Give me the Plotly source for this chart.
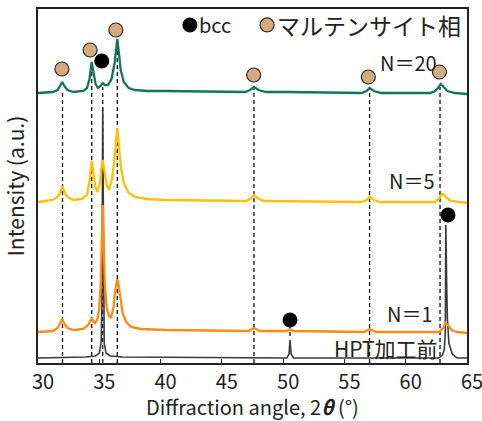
import plotly.graph_objects as go

# ---- data ----
n20_x = [30.0, 31.2, 31.6, 31.8, 31.98, 32.15, 32.4, 32.9, 33.7, 34.0, 34.2, 34.38, 34.52, 34.7, 34.9,
         35.1, 35.28, 35.45, 35.7, 36.0, 36.25, 36.37, 36.47, 36.6, 36.75, 37.0, 37.4, 37.9, 38.9,
         40.4, 46.9, 47.3, 47.62, 48.0, 48.6, 50.4, 56.4, 56.8, 57.05, 57.4, 58.0, 62.0, 62.4, 62.7,
         62.85, 63.1, 63.4, 64.0, 65.0]
n20_y = [270, 271, 273, 277, 281, 277, 273, 271, 272, 275, 284, 301, 290, 279, 275,
         277, 280, 278, 278, 284, 300, 315, 324, 310, 293, 281, 275, 273, 272,
         272, 271, 273, 276, 273, 271, 271, 270, 272, 275, 272, 270, 270, 272, 276,
         279, 276, 272, 270, 269]

n5_x = [30.0, 31.2, 31.6, 31.8, 31.98, 32.15, 32.4, 32.9, 33.6, 34.0, 34.2, 34.38, 34.52, 34.7, 34.85,
        35.05, 35.2, 35.28, 35.38, 35.6, 35.8, 36.05, 36.25, 36.37, 36.47, 36.6, 36.75, 37.0, 37.4,
        37.9, 38.9, 40.4, 47.0, 47.4, 47.62, 47.9, 48.4, 56.4, 56.8, 57.05, 57.4, 57.9, 62.4, 62.75,
        62.95, 63.15, 63.35, 63.7, 65.0]
n5_y = [161, 163, 166, 170, 177, 171, 166, 163, 164, 168, 182, 202, 190, 175, 171,
        180, 198, 203, 195, 178, 173, 185, 205, 225, 235, 218, 197, 180, 170,
        166, 164, 163, 162, 165, 168, 165, 162, 161, 163, 166, 163, 161, 161, 165,
        169, 168, 165, 162, 160]

n1_x = [30.0, 31.2, 31.6, 31.8, 31.98, 32.15, 32.4, 32.9, 33.7, 34.1, 34.3, 34.38, 34.5, 34.65, 34.85,
        35.0, 35.12, 35.2, 35.28, 35.36, 35.45, 35.6, 35.8, 35.95, 36.15, 36.3, 36.4, 36.47, 36.55,
        36.7, 36.9, 37.2, 37.6, 38.4, 40.4, 47.2, 47.62, 48.1, 50.3, 50.56, 50.85, 56.6, 57.05, 57.6,
        62.7, 63.05, 63.25, 63.45, 63.75, 64.2, 65.0]
n1_y = [31, 32, 35, 39, 44, 39, 35, 33, 34, 38, 43, 45, 42, 40, 44,
        55, 80, 120, 158, 120, 80, 55, 47, 45, 55, 72, 82, 84, 80,
        66, 50, 41, 36, 34, 33, 32, 35, 32, 32, 34, 32, 31, 34, 31,
        31, 35, 40, 38, 33, 31, 30]

hpt_x = [30.0, 33.9, 34.7, 35.0, 35.15, 35.22, 35.28, 35.34, 35.4, 35.55, 35.9, 36.9, 50.3, 50.48,
         50.56, 50.65, 50.85, 62.7, 63.0, 63.15, 63.23, 63.27, 63.3, 63.35, 63.4, 63.52, 63.8, 64.2, 65.0]
hpt_y = [5, 6, 7, 10, 20, 60, 255, 60, 20, 10, 7, 6, 5, 9,
         23, 9, 5, 5, 8, 14, 30, 138, 75, 73, 45, 20, 9, 5, 5]

mart_x = [31.95, 34.25, 36.35, 47.6, 56.95, 62.75]
mart_y = [294, 313, 333, 288, 286, 291]
bcc_x = [35.2, 50.56, 63.45]
bcc_y = [302, 43, 148]

ref_x = [32.0, 34.38, 35.28, 36.47, 47.62, 50.56, 57.05, 62.8]
ref_top = [272, 293, 276, 320, 274, 38, 274, 276]
ref_bot = [0, 0, 0, 0, 0, 27, 0, 0]

labels = ["N＝20", "N＝5", "N＝1", "HPT加工前"]
label_x = [60.2, 60.5, 60.35, 58.4]
label_y = [301, 183, 50, 15]
label_size = [20, 20, 20, 21]

x_ticks = [30, 35, 40, 45, 50, 55, 60, 65]

FONT = "Noto Sans CJK JP"

fig = go.Figure()

# dashed reference lines
dx, dy = [], []
for x, t, b in zip(ref_x, ref_top, ref_bot):
    dx += [x, x, None]
    dy += [b, t, None]
fig.add_trace(go.Scatter(x=dx, y=dy, mode="lines", showlegend=False, hoverinfo="skip",
                         line=dict(color="#111111", width=1.3, dash="4px,3px")))

fig.add_trace(go.Scatter(x=hpt_x, y=hpt_y, mode="lines", line=dict(color="#3a3a3a", width=1.6),
                         showlegend=False))
fig.add_trace(go.Scatter(x=n1_x, y=n1_y, mode="lines", line=dict(color="#FF8A14", width=2.3),
                         showlegend=False))
fig.add_trace(go.Scatter(x=n5_x, y=n5_y, mode="lines", line=dict(color="#FFC000", width=2.3),
                         showlegend=False))
fig.add_trace(go.Scatter(x=n20_x, y=n20_y, mode="lines", line=dict(color="#12775A", width=2.3),
                         showlegend=False))

fig.add_trace(go.Scatter(x=mart_x, y=mart_y, mode="markers", showlegend=False,
                         marker=dict(size=14, color="#D4AB7E", line=dict(color="#2a2a2a", width=1.2))))
fig.add_trace(go.Scatter(x=bcc_x, y=bcc_y, mode="markers", showlegend=False,
                         marker=dict(size=15, color="#000000", line=dict(width=0))))

for t, x, y, s in zip(labels, label_x, label_y, label_size):
    fig.add_annotation(x=x, y=y, text=t, showarrow=False, xanchor="center", yanchor="middle",
                       font=dict(family=FONT, size=s, color="#222222"))

# legend drawn at top right
fig.add_shape(type="circle", xref="paper", yref="paper", xsizemode="pixel", ysizemode="pixel",
              xanchor=0.354, yanchor=0.955, x0=-7.5, x1=7.5, y0=-7.5, y1=7.5,
              fillcolor="#000000", line=dict(width=0))
fig.add_shape(type="circle", xref="paper", yref="paper", xsizemode="pixel", ysizemode="pixel",
              xanchor=0.534, yanchor=0.955, x0=-7, x1=7, y0=-7, y1=7,
              fillcolor="#D4AB7E", line=dict(color="#2a2a2a", width=1.2))
fig.add_annotation(x=0.37, y=0.955, xref="paper", yref="paper", text="bcc", showarrow=False,
                   xanchor="left", yanchor="middle", font=dict(family=FONT, size=20, color="#222222"))
fig.add_annotation(x=0.553, y=0.955, xref="paper", yref="paper", text="マルテンサイト相", showarrow=False,
                   xanchor="left", yanchor="middle", font=dict(family=FONT, size=23, color="#222222"))

fig.update_layout(
    width=482, height=421,
    margin=dict(l=38, r=15, t=9, b=58, autoexpand=False),
    paper_bgcolor="white", plot_bgcolor="white",
    font=dict(family=FONT, size=19, color="#222222"),
    showlegend=False,
)
fig.update_xaxes(range=[30, 65], tickvals=x_ticks, ticks="inside", ticklen=4, tickwidth=1,
                 tickcolor="#222222", ticklabelshift=5, ticklabeloverflow="allow", automargin=False,
                 showline=True, linecolor="#222222", linewidth=1.5, mirror=True,
                 showgrid=False, zeroline=False, tickfont=dict(size=20),
                 title=dict(text="Diffraction angle, 2<b><i>θ</i></b> (°)", standoff=7,
                            font=dict(size=20)))
fig.update_yaxes(range=[0, 354], showticklabels=False, ticks="", automargin=False,
                 showline=True, linecolor="#222222", linewidth=1.5, mirror=True,
                 showgrid=False, zeroline=False,
                 title=dict(text="Intensity (a.u.)", standoff=6, font=dict(size=21)))

fig.write_html("out.html", config={"displayModeBar": False},
               post_script="document.body.style.margin='0';")
